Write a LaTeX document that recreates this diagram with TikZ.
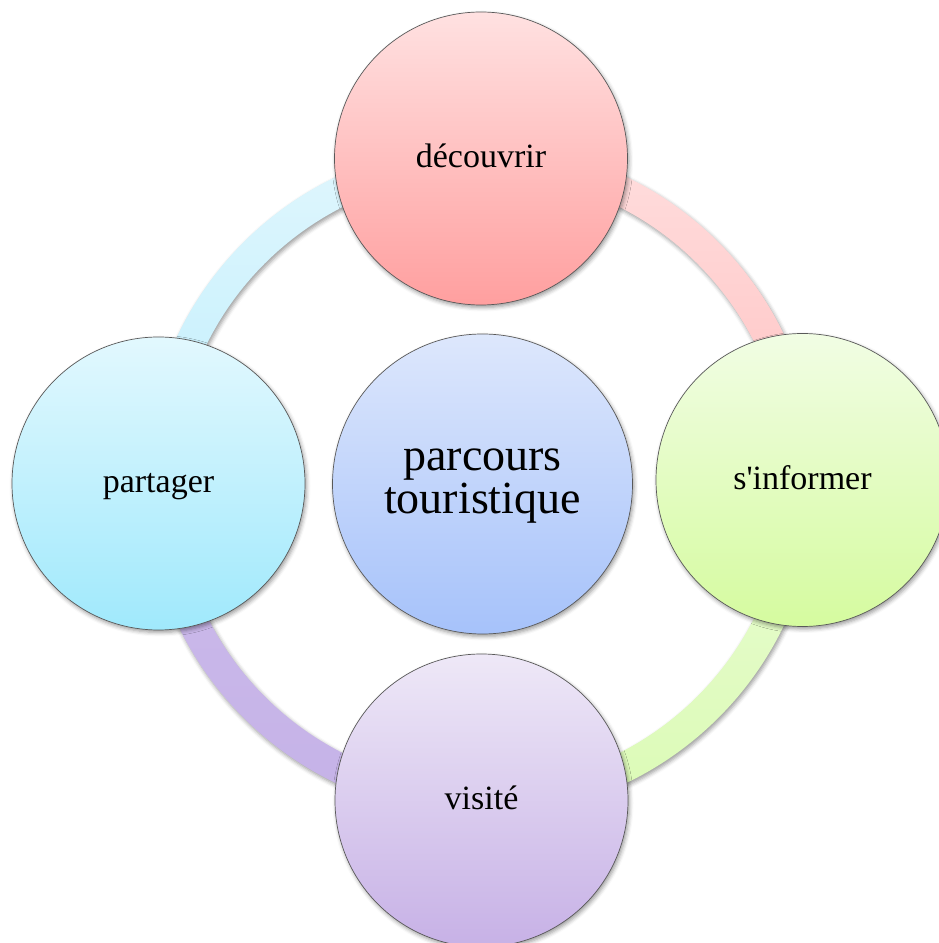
\documentclass[tikz,border=0pt]{standalone}
\usepackage{fontspec}
\newfontfamily\lbl{Liberation Serif}
\usetikzlibrary{shadows.blur}
\definecolor{pkA}{HTML}{FFE1E1}\definecolor{pkB}{HTML}{FF9F9F}
\definecolor{grA}{HTML}{F1FDE4}\definecolor{grB}{HTML}{D5FB9F}
\definecolor{puA}{HTML}{EEE8F7}\definecolor{puB}{HTML}{C7B1E6}
\definecolor{blA}{HTML}{E2F8FE}\definecolor{blB}{HTML}{A0E9FC}
\definecolor{ceA}{HTML}{DDE7FC}\definecolor{ceB}{HTML}{A6C2FA}
\definecolor{apA}{HTML}{FFDEDE}\definecolor{apB}{HTML}{FFC0C0}
\definecolor{agA}{HTML}{E9FCD3}\definecolor{agB}{HTML}{DBFBB5}
\definecolor{auA}{HTML}{CCBBEB}\definecolor{auB}{HTML}{C5B2E7}
\definecolor{abA}{HTML}{E0F6FD}\definecolor{abB}{HTML}{C0EFFD}
\newcommand\ringseg[4]{%
  \path[band, top color=#3, bottom color=#4]
    ([shift={(rc)}]#1:336) arc[start angle=#1, end angle=#2, radius=336]
    -- ([shift={(rc)}]#2:306) arc[start angle=#2, end angle=#1, radius=306] -- cycle;}
\begin{document}
\begin{tikzpicture}[x=1pt,y=1pt,
  shadowed/.style={blur shadow={shadow xshift=1.5pt, shadow yshift=-2.5pt, shadow blur radius=4pt, shadow opacity=40}},
  band/.style={shadowed},
  bubble/.style={circle, draw=black!65, line width=0.7pt, minimum size=293pt, inner sep=0pt,
    font=\lbl\fontsize{34}{40}\selectfont, text height=23.1pt, text depth=4.8pt, shadowed},
  hub/.style={circle, draw=black!65, line width=0.7pt, minimum size=300pt, inner sep=0pt, shadowed},
  hubtext/.style={font=\lbl\fontsize{46}{43}\selectfont, align=center, inner sep=0pt}]
\useasboundingbox (0,0) rectangle (939,943);
\coordinate (rc) at (481,463);
\ringseg{90}{0}{apA}{apB}
\ringseg{0}{-90}{agA}{agB}
\ringseg{-90}{-180}{auA}{auB}
\ringseg{180}{90}{abA}{abB}
\node[bubble, top color=pkA, bottom color=pkB] (dec) at (481,784.5) {découvrir};
\node[bubble, top color=grA, bottom color=grB] (inf) at (802.5,463) {s'informer};
\node[bubble, top color=puA, bottom color=puB] (vis) at (481.5,142.5) {visité};
\node[bubble, top color=blA, bottom color=blB] (par) at (158.5,459.5) {partager};
\node[hub, top color=ceA, bottom color=ceB] (hub) at (482.5,459) {};
\node[hubtext] (hubt) at ([yshift=-2.5pt]hub.center) {parcours\\touristique};
\end{tikzpicture}
\end{document}
